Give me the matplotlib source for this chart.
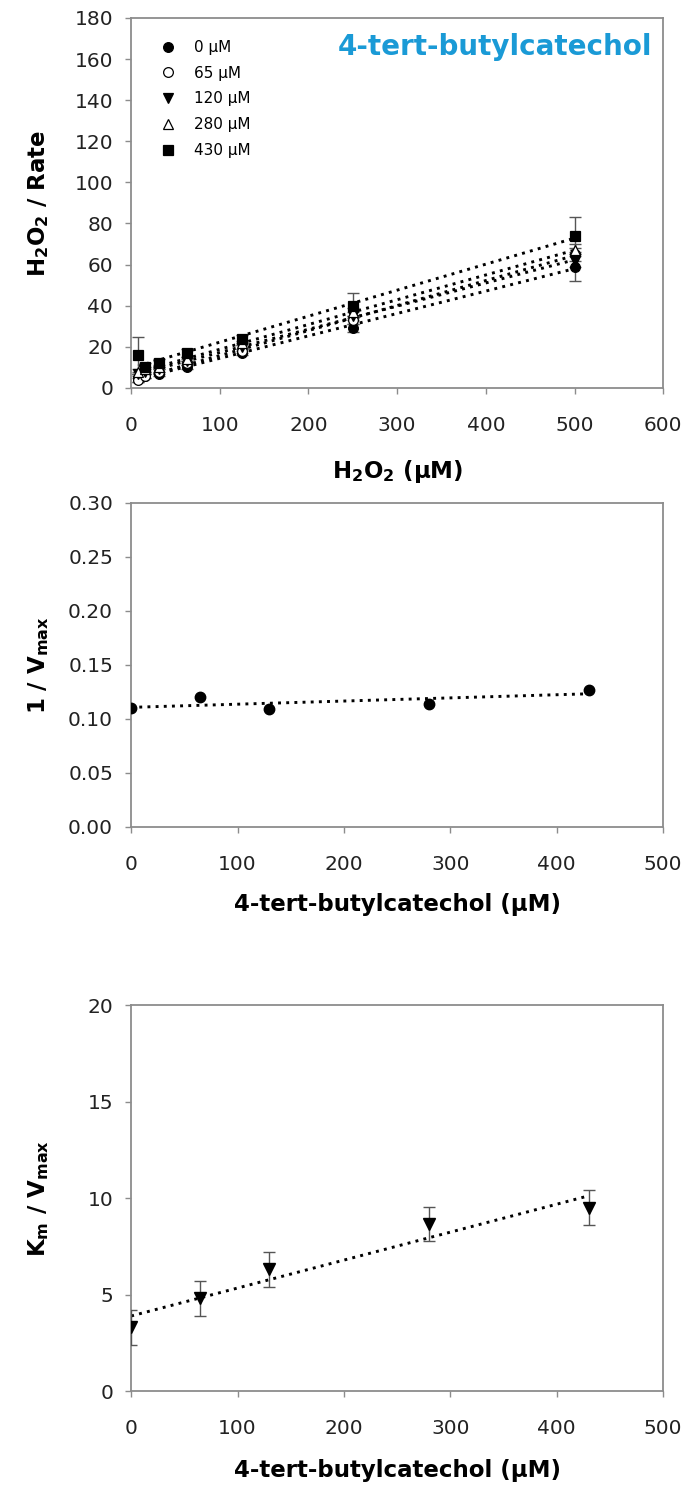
import numpy as np
import matplotlib
matplotlib.use('Agg')
import matplotlib.pyplot as plt

plt.rcParams['font.family'] = ['DejaVu Sans']
plt.rcParams['mathtext.fontset'] = 'dejavusans'
plt.rcParams['mathtext.default'] = 'bf'

# panel A: H2O2 / rate vs H2O2 at several inhibitor levels
h2o2 = [7.8, 15.6, 31.25, 62.5, 125, 250, 500]
conc_labels = ['0 \u00b5M', '65 \u00b5M', '120 \u00b5M', '280 \u00b5M', '430 \u00b5M']
rate_0 = [5, 6, 7, 10, 17, 29, 59]
rate_65 = [4, 6, 8, 12, 18, 33, 65]
rate_120 = [7, 8, 9, 13, 20, 35, 62]
rate_280 = [8, 9, 10, 14, 22, 37, 67]
rate_430 = [16, 10, 12, 17, 24, 40, 74]
err_0 = [2, 1, 1, 1, 1, 2, 7]
err_65 = [1, 1, 1, 1, 1, 2, 3]
err_120 = [1, 1, 1, 1, 1, 2, 3]
err_280 = [1, 1, 1, 1, 1, 2, 3]
err_430 = [9, 2, 2, 2, 2, 6, 9]

# panel B / C: secondary plots
inhib = [0, 65, 130, 280, 430]
inv_vmax = [0.110, 0.120, 0.109, 0.114, 0.127]
km_vmax = [3.3, 4.8, 6.3, 8.65, 9.5]
km_vmax_err = [0.9, 0.9, 0.9, 0.9, 0.9]

grey = '#8c8c8c'
dots = (0, (1, 1.8))
lab_fs = 16.5


def style(ax):
    for s in ax.spines.values():
        s.set_color(grey)
        s.set_linewidth(1.3)
    ax.tick_params(direction='out', length=4, width=1, color=grey,
                   labelsize=14.5, labelcolor='#222222')
    ax.tick_params(axis='x', pad=16)
    ax.tick_params(axis='y', pad=9)


fig = plt.figure(figsize=(6.83, 14.90), dpi=100)

# --- top panel ---
ax1 = fig.add_axes([0.192, 0.7396, 0.779, 0.2484])
series = [rate_0, rate_65, rate_120, rate_280, rate_430]
errs = [err_0, err_65, err_120, err_280, err_430]
markers = ['o', 'o', 'v', '^', 's']
faces = ['black', 'white', 'black', 'white', 'black']
x = np.array(h2o2)
for y, e, m, fc, lab in zip(series, errs, markers, faces, conc_labels):
    k, b = np.polyfit(x, y, 1)
    ax1.plot(x, k * x + b, color='black', lw=2.1, ls=dots, zorder=2)
    ax1.errorbar(x, y, yerr=e, fmt='none', ecolor='#555555', elinewidth=1,
                 capsize=4, zorder=3)
    ax1.plot(x, y, ls='none', marker=m, ms=7, mfc=fc, mec='black', mew=0.9,
             label=lab, zorder=4)
ax1.set_xlim(0, 600)
ax1.set_ylim(0, 180)
ax1.set_xticks(range(0, 601, 100))
ax1.set_yticks(range(0, 181, 20))
style(ax1)
ax1.set_xlabel('H$_2$O$_2$ (\u00b5M)', fontsize=lab_fs, fontweight='bold')
ax1.set_ylabel('H$_2$O$_2$ / Rate', fontsize=lab_fs, fontweight='bold')
ax1.xaxis.set_label_coords(0.5, -0.19)
ax1.yaxis.set_label_coords(-0.15, 0.5)
ax1.legend(loc='upper left', bbox_to_anchor=(0.055, 0.94), frameon=False,
           fontsize=11, handlelength=1.0, handletextpad=1.2, labelspacing=0.7,
           borderpad=0, borderaxespad=0, numpoints=1)
ax1.text(0.98, 0.922, '4-tert-butylcatechol', transform=ax1.transAxes,
         ha='right', va='center', color='#1a9ad6', fontsize=20,
         fontweight='bold')

# --- middle panel ---
ax2 = fig.add_axes([0.192, 0.445, 0.779, 0.2175])
xi = np.array(inhib)
k, b = np.polyfit(xi, inv_vmax, 1)
ax2.plot(xi, k * xi + b, color='black', lw=2.1, ls=dots, zorder=2)
ax2.plot(xi, inv_vmax, ls='none', marker='o', ms=7.5, color='black', zorder=3)
ax2.set_xlim(0, 500)
ax2.set_ylim(0, 0.30)
ax2.set_xticks(range(0, 501, 100))
ax2.set_yticks(np.arange(0, 0.301, 0.05))
ax2.yaxis.set_major_formatter(matplotlib.ticker.FormatStrFormatter('%.2f'))
style(ax2)
ax2.set_xlabel('4-tert-butylcatechol (\u00b5M)', fontsize=lab_fs, fontweight='bold')
ax2.set_ylabel('1 / V$_{max}$', fontsize=lab_fs, fontweight='bold')
ax2.xaxis.set_label_coords(0.5, -0.205)
ax2.yaxis.set_label_coords(-0.15, 0.5)

# --- bottom panel ---
ax3 = fig.add_axes([0.192, 0.0664, 0.779, 0.2591])
k, b = np.polyfit(xi, km_vmax, 1)
ax3.plot(xi, k * xi + b, color='black', lw=2.1, ls=dots, zorder=2)
ax3.errorbar(xi, km_vmax, yerr=km_vmax_err, fmt='none', ecolor='#555555',
             elinewidth=1, capsize=4, zorder=3)
ax3.plot(xi, km_vmax, ls='none', marker='v', ms=8, color='black', zorder=4)
ax3.set_xlim(0, 500)
ax3.set_ylim(0, 20)
ax3.set_xticks(range(0, 501, 100))
ax3.set_yticks(range(0, 21, 5))
style(ax3)
ax3.set_xlabel('4-tert-butylcatechol (\u00b5M)', fontsize=lab_fs, fontweight='bold')
ax3.set_ylabel('K$_m$ / V$_{max}$', fontsize=lab_fs, fontweight='bold')
ax3.xaxis.set_label_coords(0.5, -0.175)
ax3.yaxis.set_label_coords(-0.15, 0.5)

fig.savefig('out.png', dpi=100)
